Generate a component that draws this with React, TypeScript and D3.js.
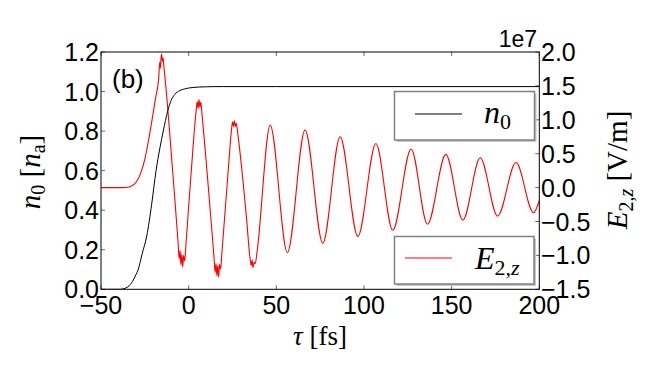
import * as d3 from 'd3'

// n_0 (black), tau in fs
const tauN = [-50, -39, -37, -34.6, -32, -30, -28.9, -26.5, -23.9, -21.1, -18.6, -16.5, -14.5, -12, -10, -8, -5, -2, 0, 3, 6, 10, 15, 20, 50, 100, 200]
const n0Vals = [0, 0, 0.003, 0.013, 0.04, 0.075, 0.097, 0.18, 0.27, 0.43, 0.6, 0.71, 0.8, 0.9, 0.955, 0.985, 1.005, 1.014, 1.018, 1.021, 1.023, 1.024, 1.025, 1.025, 1.025, 1.025, 1.025]

// E_2,z (red), in units of 1e7 V/m; the jagged
// points near the first extrema follow the noise visible there
const tauE = [
  -50, -38, -34, -31, -29, -27, -25, -23, -21, -19, -17, -16.5, -16.1, -15.7, -15.4, -15, -14.6, -14.1, -13.4,
  -9, -6, -5.4, -4.9, -4.4, -3.9, -3.4, -2.9, -2.3, -1.5,
  2.5, 4.3, 4.9, 5.4, 5.9, 6.4, 6.9, 7.6,
  12.5, 14.5, 15.1, 15.6, 16.1, 16.6, 17.1, 17.6, 18.2, 19,
  23, 24.5, 25.1, 25.6, 26.1, 26.6, 27.2, 28,
  33, 35, 35.7, 36.2, 36.7, 37.3, 38, 39,
  46.5, 56.3, 66.4, 76.5, 86.4, 96.5, 106.8, 116.4, 126.9, 136.2, 146.7, 156.4, 166.3, 176.2, 186.7, 196.7, 200,
]
const eVals = [
  0, 0, 0.01, 0.05, 0.12, 0.24, 0.42, 0.68, 0.98, 1.3, 1.65, 1.85, 1.76, 1.93, 1.97, 1.86, 1.91, 1.78, 1.6,
  0.2, -0.82, -1.05, -0.93, -1.14, -0.98, -1.17, -1.0, -1.08, -0.82,
  0.6, 1.14, 1.27, 1.17, 1.3, 1.19, 1.26, 1.08,
  -0.4, -1.04, -1.25, -1.12, -1.3, -1.15, -1.32, -1.13, -1.2, -0.95,
  0.4, 0.87, 0.97, 0.9, 0.99, 0.9, 0.95, 0.8,
  -0.45, -1.04, -1.15, -1.07, -1.18, -1.1, -1.12, -0.95,
  0.92, -0.96, 0.85, -0.82, 0.75, -0.72, 0.65, -0.63, 0.57, -0.54, 0.49, -0.48, 0.44, -0.42, 0.37, -0.37, -0.19,
]

const xTicks = [-50, 0, 50, 100, 150, 200]
const nTicks = [0, 0.2, 0.4, 0.6, 0.8, 1.0, 1.2]
const eTicks = [-1.5, -1.0, -0.5, 0, 0.5, 1.0, 1.5, 2.0]

const W = 664
const H = 385
const L = 101
const T = 52
const R = 539.3
const B = 289.3

const SANS = '"Liberation Sans", Arial, sans-serif'
const SERIF = '"Liberation Serif", serif'

const fmt = (v: number) => (v < 0 ? '\u2212' : '') + Math.abs(v).toFixed(1)

export default function App() {
  const x = d3.scaleLinear().domain([-50, 200]).range([L, R])
  const yN = d3.scaleLinear().domain([0, 1.2]).range([B, T])
  const yE = d3.scaleLinear().domain([-1.5, 2.0]).range([B, T])

  const lineN = d3.line<number>()
    .x((_, i) => x(tauN[i]))
    .y(d => yN(d))
    .curve(d3.curveMonotoneX)
  const lineE = d3.line<number>()
    .x((_, i) => x(tauE[i]))
    .y(d => yE(d))
    .curve(d3.curveMonotoneX)

  return (
    <div style={{ position: 'absolute', left: 0, top: 0 }}>
      <svg width={W} height={H} style={{ display: 'block', background: '#fff' }}>
        <defs>
          <clipPath id="plot">
            <rect x={L} y={T} width={R - L} height={B - T} />
          </clipPath>
        </defs>

        <g clipPath="url(#plot)">
          <path d={lineE(eVals) || ''} fill="none" stroke="#ff0000" strokeWidth={1.1} />
          <path d={lineN(n0Vals) || ''} fill="none" stroke="#000" strokeWidth={1} />
        </g>

        {/* ticks point inward */}
        {xTicks.map(t => (
          <g key={'x' + t}>
            <line x1={x(t)} x2={x(t)} y1={B} y2={B - 4} stroke="#000" strokeWidth={0.6} />
            <line x1={x(t)} x2={x(t)} y1={T} y2={T + 4} stroke="#000" strokeWidth={0.6} />
            <text x={x(t)} y={313.5} textAnchor="middle" fontFamily={SANS} fontSize={25}>
              {t < 0 ? '\u2212' + Math.abs(t) : t}
            </text>
          </g>
        ))}
        {nTicks.map(t => (
          <g key={'n' + t}>
            <line x1={L} x2={L + 4} y1={yN(t)} y2={yN(t)} stroke="#000" strokeWidth={0.6} />
            <text x={99} y={yN(t)} dy="0.36em" textAnchor="end" fontFamily={SANS} fontSize={25}>
              {fmt(t)}
            </text>
          </g>
        ))}
        {eTicks.map(t => (
          <g key={'e' + t}>
            <line x1={R - 4} x2={R} y1={yE(t)} y2={yE(t)} stroke="#000" strokeWidth={0.6} />
            <text x={541} y={yE(t)} dy="0.36em" textAnchor="start" fontFamily={SANS} fontSize={25}>
              {fmt(t)}
            </text>
          </g>
        ))}

        <rect x={L} y={T} width={R - L} height={B - T} fill="none" stroke="#000" strokeWidth={1} />

        <text x={537} y={46.5} textAnchor="end" fontFamily={SANS} fontSize={23}>1e7</text>
        <text x={112} y={88} fontFamily={SANS} fontSize={26}>(b)</text>

        {/* axis labels */}
        <text x={320} y={345} textAnchor="middle" fontFamily={SERIF} fontSize={27}>
          <tspan fontStyle="italic">τ</tspan> [fs]
        </text>
        <text transform={`translate(40,172) rotate(-90)`} textAnchor="middle" fontFamily={SERIF} fontSize={29}>
          <tspan fontStyle="italic">n</tspan>
          <tspan fontSize={20} dy={5}>0</tspan>
          <tspan dy={-5}> [</tspan>
          <tspan fontStyle="italic">n</tspan>
          <tspan fontSize={20} dy={5}>a</tspan>
          <tspan dy={-5}>]</tspan>
        </text>
        <text transform={`translate(627,170) rotate(-90)`} textAnchor="middle" fontFamily={SERIF} fontSize={29}>
          <tspan fontStyle="italic">E</tspan>
          <tspan fontSize={20} dy={6}>2,</tspan>
          <tspan fontSize={20} fontStyle="italic">z</tspan>
          <tspan dy={-6}> [V/m]</tspan>
        </text>

        {/* legends */}
        <rect x={396.5} y={93.5} width={140} height={48.5} fill="#c8c8c8" />
        <rect x={394.5} y={91.5} width={140} height={48.5} fill="#fff" stroke="#808080" strokeWidth={1.5} />
        <line x1={415} x2={462} y1={114} y2={114} stroke="#000" strokeWidth={1} />
        <text x={484} y={123} fontFamily={SERIF} fontSize={32}>
          <tspan fontStyle="italic">n</tspan>
          <tspan fontSize={22} dy={6}>0</tspan>
        </text>

        <rect x={396.5} y={238.5} width={139.5} height={47.5} fill="#c8c8c8" />
        <rect x={394.5} y={236.5} width={139.5} height={47.5} fill="#fff" stroke="#808080" strokeWidth={1.5} />
        <line x1={405} x2={452} y1={258} y2={258} stroke="#ff0000" strokeWidth={1} />
        <text x={475} y={269} fontFamily={SERIF} fontSize={32}>
          <tspan fontStyle="italic">E</tspan>
          <tspan fontSize={22} dy={6}>2,</tspan>
          <tspan fontSize={22} fontStyle="italic">z</tspan>
        </text>
      </svg>
    </div>
  )
}
